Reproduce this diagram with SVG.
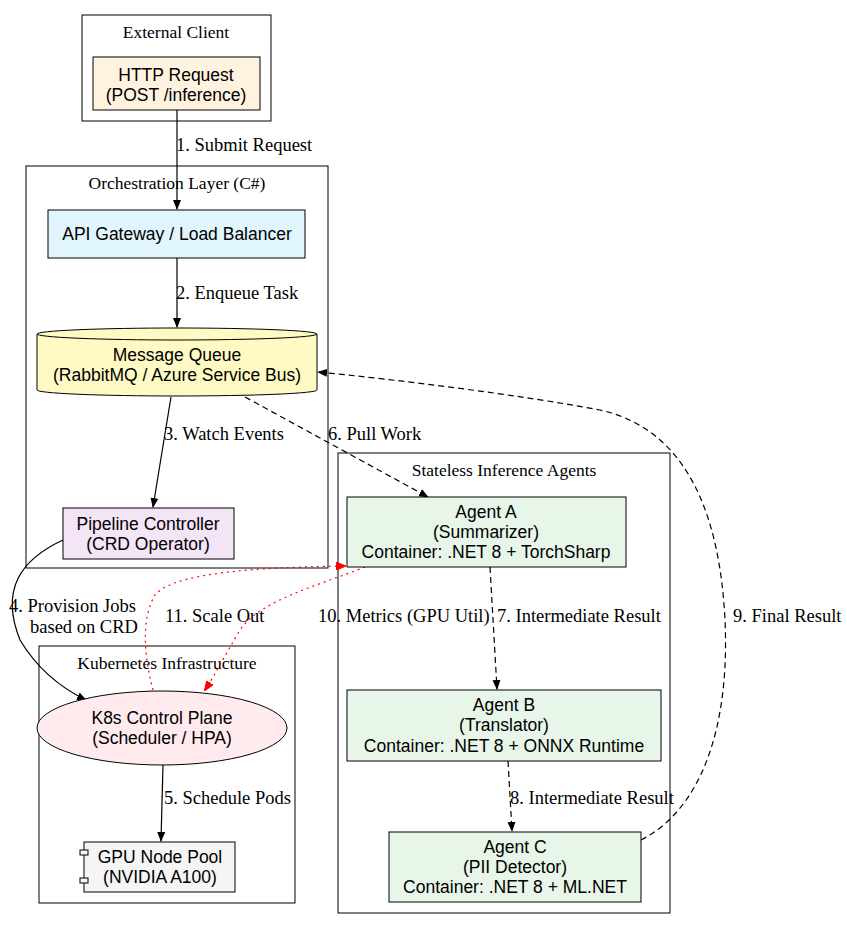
<svg xmlns="http://www.w3.org/2000/svg" width="847" height="929" viewBox="0 0 847 929">
<defs>
<marker id="a" markerWidth="10" markerHeight="8" refX="9" refY="4" orient="auto" markerUnits="userSpaceOnUse"><path d="M0,0 L10,4 L0,8 z" fill="#000"/></marker>
<marker id="r" markerWidth="10" markerHeight="8" refX="9" refY="4" orient="auto" markerUnits="userSpaceOnUse"><path d="M0,0 L10,4 L0,8 z" fill="#f00" stroke="#f00"/></marker>
<style>
.c{fill:#fff;stroke:#000;stroke-width:1}
.n{stroke:#000;stroke-width:1}
.t{font-family:"Liberation Sans",Arial,sans-serif;font-size:17.5px;text-anchor:middle}
.cl{font-family:"Liberation Serif","Times New Roman",serif;font-size:17.5px;text-anchor:middle}
.l{font-family:"Liberation Serif","Times New Roman",serif;font-size:18.5px}
.e{fill:none;stroke:#000;stroke-width:1.2}
.d{stroke-dasharray:6,4}
.rd{fill:none;stroke:#f00;stroke-width:1.2;stroke-dasharray:2,4}
</style>
</defs>
<rect width="847" height="929" fill="#fff"/>
<g id="clusters">
<rect class="c" x="82" y="15" width="189" height="106"/><text class="cl" x="176" y="38">External Client</text>
<rect class="c" x="26" y="166" width="302" height="402"/><text class="cl" x="177" y="189">Orchestration Layer (C#)</text>
<rect class="c" x="338" y="453" width="332" height="460"/><text class="cl" x="504" y="476">Stateless Inference Agents</text>
<rect class="c" x="39" y="646" width="256" height="257"/><text class="cl" x="167" y="669">Kubernetes Infrastructure</text>
</g>
<g id="connectors">
<path class="e" d="M177,110 L177,209" marker-end="url(#a)"/><text class="l" x="176" y="151">1. Submit Request</text>
<path class="e" d="M177,258 L177,327" marker-end="url(#a)"/><text class="l" x="176" y="299">2. Enqueue Task</text>
<path class="e" d="M171,397 L153,507" marker-end="url(#a)"/><text class="l" x="164" y="440">3. Watch Events</text>
<path class="e d" d="M245,397 L428,497" marker-end="url(#a)"/><text class="l" x="328" y="440">6. Pull Work</text>
<path class="e d" d="M490,567 L497,689" marker-end="url(#a)"/><text class="l" x="497" y="622">7. Intermediate Result</text>
<path class="e d" d="M508,761 L512,831" marker-end="url(#a)"/><text class="l" x="510" y="804">8. Intermediate Result</text>
<path class="e d" d="M641,840 C700,810 730,730 725,620 C720,520 690,430 600,410 C520,395 400,380 318,372" marker-end="url(#a)"/><text class="l" x="733" y="622">9. Final Result</text>
<path class="e" d="M63,540 C20,560 0,590 20,640 C35,665 55,685 86,700" marker-end="url(#a)"/><text class="l" x="9" y="612">4. Provision Jobs</text><text class="l" x="30" y="633">based on CRD</text>
<path class="e" d="M163,765 L161,841" marker-end="url(#a)"/><text class="l" x="164" y="804">5. Schedule Pods</text>
<path class="rd" d="M365,567 C320,585 260,600 240,630 C225,655 215,675 205,690" marker-end="url(#r)"/><text class="l" x="318" y="622">10. Metrics (GPU Util)</text>
<path class="rd" d="M153,690 C145,660 140,620 155,595 C175,570 280,567 345,566" marker-end="url(#r)"/><text class="l" x="165" y="622">11. Scale Out</text>
</g>
<g id="http"><rect class="n" x="93" y="57" width="167" height="53" fill="#fff3e0"/><text class="t" x="176" y="81">HTTP Request</text><text class="t" x="176" y="101">(POST /inference)</text></g>
<g id="gateway"><rect class="n" x="48" y="210" width="257" height="48" fill="#e1f5fe"/><text class="t" x="177" y="240">API Gateway / Load Balancer</text></g>
<g id="queue"><path class="n" fill="#fff9c4" d="M37,334 A140,6 0 0 1 317,334 L317,390 A140,6 0 0 1 37,390 Z"/><path class="n" fill="none" d="M37,334 A140,6 0 0 0 317,334"/><text class="t" x="177" y="361">Message Queue</text><text class="t" x="177" y="381">(RabbitMQ / Azure Service Bus)</text></g>
<g id="controller"><rect class="n" x="63" y="508" width="171" height="51" fill="#f3e5f5"/><text class="t" x="148" y="530">Pipeline Controller</text><text class="t" x="148" y="550">(CRD Operator)</text></g>
<g id="agentA"><rect class="n" x="347" y="497" width="279" height="70" fill="#e8f5e9"/><text class="t" x="486" y="518">Agent A</text><text class="t" x="486" y="538">(Summarizer)</text><text class="t" x="486" y="558">Container: .NET 8 + TorchSharp</text></g>
<g id="agentB"><rect class="n" x="347" y="690" width="314" height="71" fill="#e8f5e9"/><text class="t" x="504" y="711">Agent B</text><text class="t" x="504" y="731">(Translator)</text><text class="t" x="504" y="752">Container: .NET 8 + ONNX Runtime</text></g>
<g id="agentC"><rect class="n" x="389" y="832" width="252" height="70" fill="#e8f5e9"/><text class="t" x="515" y="853">Agent C</text><text class="t" x="515" y="873">(PII Detector)</text><text class="t" x="515" y="893">Container: .NET 8 + ML.NET</text></g>
<g id="k8s"><ellipse class="n" cx="162" cy="728" rx="125" ry="37" fill="#ffebee"/><text class="t" x="162" y="724">K8s Control Plane</text><text class="t" x="162" y="744">(Scheduler / HPA)</text></g>
<g id="gpu"><rect class="n" x="84" y="842" width="151" height="50" fill="#f5f5f5"/><rect class="n" x="80" y="850" width="8" height="5" fill="#f5f5f5"/><rect class="n" x="80" y="878" width="8" height="5" fill="#f5f5f5"/><text class="t" x="160" y="863">GPU Node Pool</text><text class="t" x="160" y="883">(NVIDIA A100)</text></g>
</svg>
